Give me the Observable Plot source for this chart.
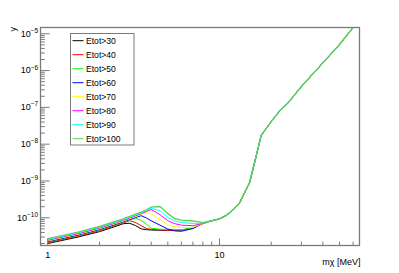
<!DOCTYPE html>
<html>
<head>
<meta charset="utf-8">
<script src="https://cdn.jsdelivr.net/npm/d3@7"></script>
<script src="https://cdn.jsdelivr.net/npm/@observablehq/plot@0.6"></script>
<style>
  html, body { margin: 0; padding: 0; background: #fff; }
</style>
</head>
<body>
<div id="chart"></div>
<script>
// ---- data ----
const seriesLabels = ["Etot>30", "Etot>40", "Etot>50", "Etot>60", "Etot>70", "Etot>80", "Etot>90", "Etot>100"];
const seriesColors = ["#000000", "#ff0000", "#00ff00", "#0000ff", "#ffff00", "#ff00ff", "#00ffff", "#59d354"];

// low-mass region where the curves differ
const lowMass = [1, 1.5, 2, 2.5, 2.75, 3, 3.25, 3.5, 3.75, 4, 4.5, 5, 5.5, 6, 7, 8];
const yEtot30  = [2.0e-11, 3.0e-11, 4.2e-11, 5.9e-11, 6.9e-11, 7.1e-11, 6.1e-11, 5.0e-11, 4.75e-11, 4.65e-11, 4.6e-11, 4.55e-11, 4.55e-11, 4.6e-11, 5.3e-11, 7.0e-11];
const yEtot40  = [2.1e-11, 3.15e-11, 4.45e-11, 6.2e-11, 7.2e-11, 8.4e-11, 7.4e-11, 6.1e-11, 5.1e-11, 4.85e-11, 4.7e-11, 4.6e-11, 4.6e-11, 4.65e-11, 5.3e-11, 7.0e-11];
const yEtot50  = [2.2e-11, 3.3e-11, 4.65e-11, 6.5e-11, 7.6e-11, 8.7e-11, 9.7e-11, 8.4e-11, 6.7e-11, 5.2e-11, 4.9e-11, 4.8e-11, 4.7e-11, 4.7e-11, 5.3e-11, 7.0e-11];
const yEtot60  = [2.25e-11, 3.4e-11, 4.8e-11, 6.7e-11, 7.8e-11, 9.0e-11, 1.02e-10, 1.14e-10, 9.9e-11, 8.3e-11, 6.3e-11, 4.95e-11, 4.4e-11, 4.3e-11, 5.1e-11, 7.0e-11];
const yEtot70  = [2.35e-11, 3.55e-11, 5.0e-11, 7.0e-11, 8.1e-11, 9.4e-11, 1.08e-10, 1.24e-10, 1.42e-10, 1.26e-10, 9.0e-11, 6.4e-11, 5.7e-11, 5.4e-11, 5.5e-11, 7.0e-11];
const yEtot80  = [2.45e-11, 3.7e-11, 5.2e-11, 7.3e-11, 8.5e-11, 9.8e-11, 1.13e-10, 1.29e-10, 1.48e-10, 1.68e-10, 1.22e-10, 8.3e-11, 6.9e-11, 6.3e-11, 6.1e-11, 7.1e-11];
const yEtot90  = [2.58e-11, 3.9e-11, 5.5e-11, 7.7e-11, 8.9e-11, 1.03e-10, 1.18e-10, 1.36e-10, 1.56e-10, 1.82e-10, 1.55e-10, 1.02e-10, 8.1e-11, 7.4e-11, 7.0e-11, 7.2e-11];
const yEtot100 = [2.72e-11, 4.1e-11, 5.8e-11, 8.1e-11, 9.4e-11, 1.09e-10, 1.25e-10, 1.43e-10, 1.65e-10, 1.95e-10, 2.03e-10, 1.3e-10, 9.4e-11, 8.6e-11, 8.2e-11, 7.4e-11];

// high-mass region shared by all curves
const tailMass = [9, 10, 11, 12, 13, 15, 17.5, 20, 22.5, 25, 30, 40, 50, 60];
const tailY    = [8.3e-11, 9.3e-11, 1.18e-10, 1.65e-10, 2.4e-10, 9.3e-10, 1.73e-8, 4.1e-8, 8.2e-8, 1.3e-7, 3.7e-7, 1.62e-6, 5.1e-6, 1.48e-5];

// axis ticks
const xMajorTicks = [1, 10];
const xMinorTicks = [2, 3, 4, 5, 6, 7, 8, 9, 20, 30, 40, 50, 60];
const yMajorTicks = [1e-10, 1e-9, 1e-8, 1e-7, 1e-6, 1e-5];
const yMinorTicks = [-11, -10, -9, -8, -7, -6].flatMap(e => [2, 3, 4, 5, 6, 7, 8, 9].map(k => k * Math.pow(10, e))).filter(v => v > 1.77e-11 && v < 1.48e-5);

const xTitle = "mχ [MeV]";
const yTitle = "y";

// ---- build table ----
const seriesValues = [yEtot30, yEtot40, yEtot50, yEtot60, yEtot70, yEtot80, yEtot90, yEtot100];
const rows = seriesLabels.flatMap((s, i) => [
  ...lowMass.map((m, j) => ({m, y: seriesValues[i][j], s})),
  ...tailMass.map((m, j) => ({m, y: tailY[j], s}))
]);
const lastLabel = seriesLabels[seriesLabels.length - 1];

const frameColor = "#7a7a7a";
const font = "'Liberation Sans', Arial, Helvetica, sans-serif";

const svg = Plot.plot({
  width: 399,
  height: 273,
  marginLeft: 40,
  marginRight: 40,
  marginTop: 27,
  marginBottom: 28,
  style: {fontFamily: font, fontSize: "9px", background: "#fff", color: "#000"},
  x: {type: "log", domain: [0.9067, 65.37]},
  y: {type: "log", domain: [1.766e-11, 1.48e-5]},
  color: {domain: seriesLabels, range: seriesColors},
  marks: [
    Plot.line(rows, {filter: d => d.s !== lastLabel, x: "m", y: "y", z: "s", stroke: "s", strokeWidth: 1, clip: true}),
    Plot.line(rows, {filter: d => d.s === lastLabel, x: "m", y: "y", z: "s", stroke: "s", strokeWidth: 1.35, clip: true}),
    Plot.axisX(xMajorTicks, {anchor: "bottom", tickSize: -6.5, tickPadding: 13, stroke: frameColor, fill: "#000", tickFormat: d => String(d), label: null}),
    Plot.axisX(xMinorTicks, {anchor: "bottom", tickSize: -3.3, tickPadding: 0, stroke: frameColor, tickFormat: () => "", label: null}),
    Plot.axisY(yMajorTicks, {anchor: "left", tickSize: -9.6, tickPadding: 12, stroke: frameColor, fill: "#000", tickFormat: d => "10^" + Math.round(Math.log10(d)), label: null}),
    Plot.axisY(yMinorTicks, {anchor: "left", tickSize: -4.8, tickPadding: 0, stroke: frameColor, tickFormat: () => "", label: null}),
    Plot.frame({stroke: frameColor, strokeWidth: 1.3}),
    Plot.text([xTitle], {frameAnchor: "bottom-right", text: d => d, textAnchor: "end", dx: 1, dy: 19.5, fontSize: 9, ariaLabel: "xtitle"})
  ]
});

document.getElementById("chart").appendChild(svg);
const sel = d3.select(svg);

// superscripts on y tick labels
sel.selectAll('g[aria-label="y-axis tick label"] text').each(function() {
  const t = this.textContent;
  if (!t.includes("^")) return;
  const [base, exp] = t.split("^");
  const el = d3.select(this);
  el.text(null);
  el.append("tspan").text(base);
  el.append("tspan").attr("dy", "-3.8").attr("font-size", "6.5px").text(exp.replace("-", "\u2212"));
});

// subscript chi in x title
sel.selectAll('g[aria-label="xtitle"] text').each(function() {
  const el = d3.select(this);
  el.text(null);
  el.append("tspan").text("m");
  el.append("tspan").attr("dy", "2.5").attr("font-size", "6.5px").text("χ");
  el.append("tspan").attr("dy", "-2.5").text(" [MeV]");
});

// y title
sel.append("text")
  .attr("transform", "translate(15.5,27) rotate(-90)")
  .attr("text-anchor", "end")
  .attr("font-family", font)
  .attr("font-size", "9px")
  .text(yTitle);

// legend
const lg = sel.append("g").attr("font-family", font).attr("font-size", "8.6px").attr("text-anchor", "start");
lg.append("rect").attr("x", 70.5).attr("y", 33.5).attr("width", 63.5).attr("height", 111.5)
  .attr("fill", "#fff").attr("stroke", frameColor).attr("stroke-width", 1);
seriesLabels.forEach((s, i) => {
  const yy = 40.7 + i * 14;
  lg.append("line").attr("x1", 72.5).attr("x2", 83.5).attr("y1", yy).attr("y2", yy)
    .attr("stroke", seriesColors[i]).attr("stroke-width", 1);
  lg.append("text").attr("x", 86).attr("y", yy).attr("dy", "0.35em").attr("text-anchor", "start").attr("fill", "#000").text(s);
});
</script>
</body>
</html>
